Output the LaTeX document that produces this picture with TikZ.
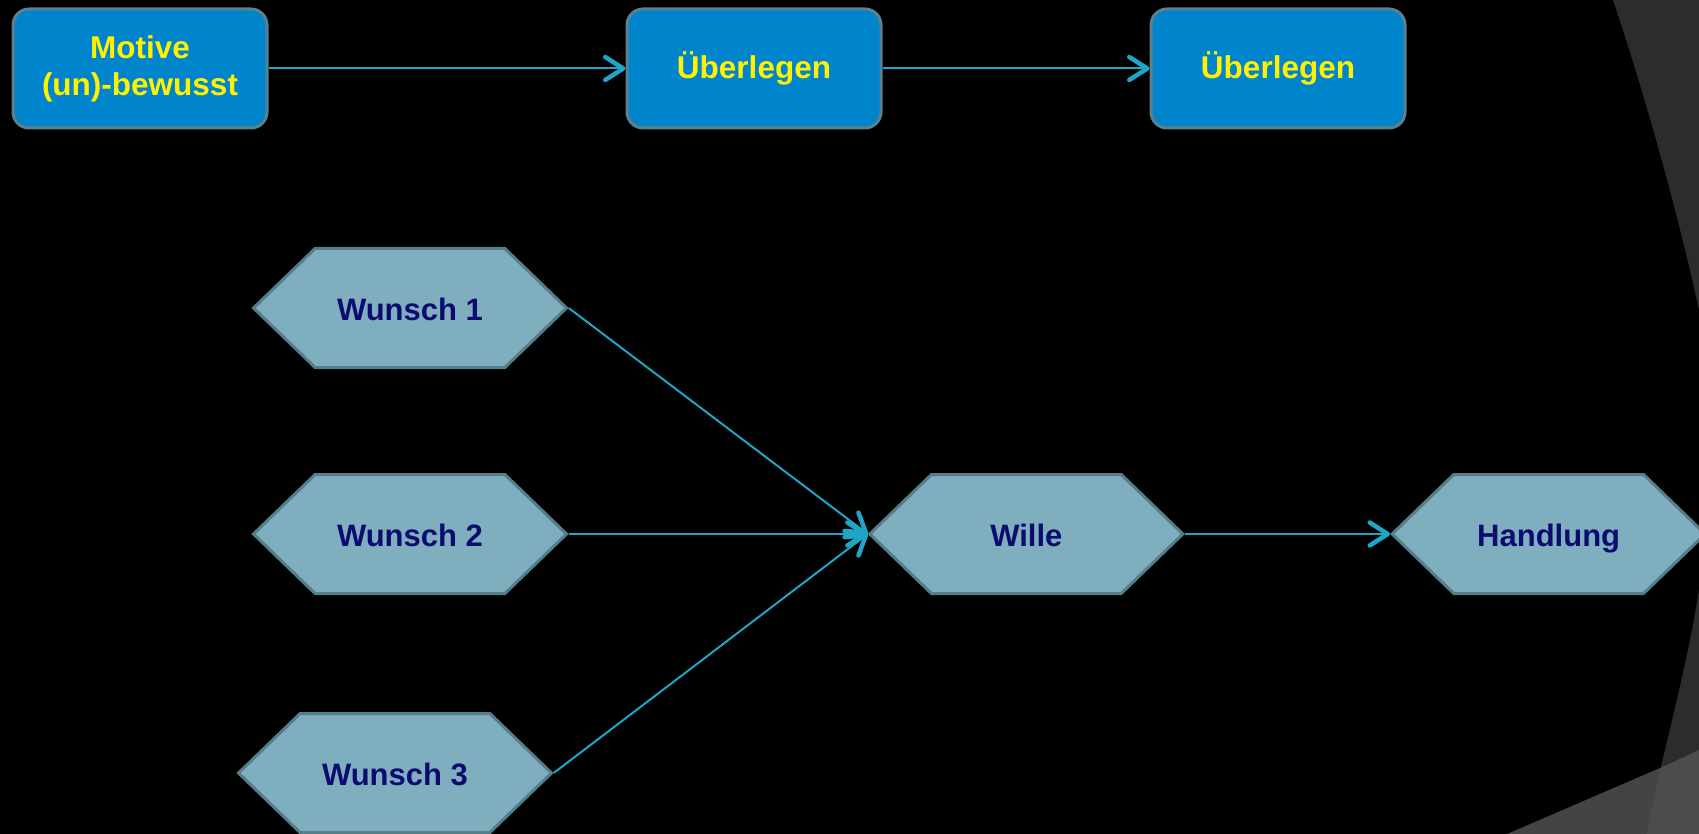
\documentclass[tikz,border=0pt]{standalone}
\usepackage{fontspec}
\setmainfont{Liberation Sans}
\usetikzlibrary{positioning, shapes.symbols, arrows.meta}
\definecolor{boxblue}{RGB}{0,132,204}
\definecolor{boxline}{RGB}{92,128,142}
\definecolor{hexfill}{RGB}{127,174,190}
\definecolor{hexline}{RGB}{84,126,138}
\definecolor{hexnavy}{RGB}{12,12,112}
\definecolor{conncol}{RGB}{30,165,200}
\definecolor{darkband}{RGB}{44,44,44}
\definecolor{lightband}{RGB}{68,68,68}
\definecolor{lighterband}{RGB}{76,76,76}
\tikzset{
	motiv/.style = {rectangle, rounded corners=16pt, draw=boxline, line width=3pt,
	 fill=boxblue, minimum width=254pt, minimum height=119pt, inner sep=0pt,
	 text=yellow, align=center, font=\bfseries\fontsize{31.5}{37}\selectfont}}
\tikzset{
	hexa/.style = {signal, signal to=east and west, signal pointer angle=88,
	 draw=hexline, line width=3pt, fill=hexfill, minimum width=313pt,
	 minimum height=119pt, inner sep=0pt, text=hexnavy, text height=24pt,
	 text depth=0pt, font=\bfseries\fontsize{31}{37}\selectfont}}
\tikzset{
	conn/.style = {draw=conncol, line width=2pt,
	 -{Straight Barb[length=18pt, width=23pt, line width=4.5pt, round]}}}
\begin{document}
\begin{tikzpicture}[x=1pt, y=-1pt]

% BACKGROUND
\useasboundingbox (0,0) rectangle (1699,834);
\fill [black] (0,0) rectangle (1699,834);
\fill [darkband] (1613,0) .. controls (1640,80) and (1675,200) .. (1699,310) -- (1699,0) -- cycle;
\fill [darkband] (1699,590) .. controls (1685,680) and (1655,780) .. (1647,834) -- (1699,834) -- cycle;
\fill [lightband] (1507,834) -- (1667,765) -- (1699,750) -- (1699,834) -- cycle;
\begin{scope}
	\clip (1507,834) -- (1667,765) -- (1699,750) -- (1699,834) -- cycle;
	\fill [lighterband] (1699,590) .. controls (1685,680) and (1655,780) .. (1647,834) -- (1699,834) -- cycle;
\end{scope}

% NODES
\node (motive) [motiv] at (140,68.5) {Motive\\(un)-bewusst};
\node (ueb1) [motiv, right=357pt of motive] {Überlegen};
\node (ueb2) [motiv, right=267pt of ueb1] {Überlegen};

\node (w1) [hexa] at (410,308) {Wunsch 1};
\node (w2) [hexa, below=104pt of w1] {Wunsch 2};
\node (w3) [hexa] at (395,773) {Wunsch 3};
\node (wille) [hexa, right=299pt of w2] {Wille};
\node (handlung) [hexa, right=205pt of wille] {Handlung};

%CONNECTIONS
\draw [conn] (motive) -- (ueb1);
\draw [conn] (ueb1) -- (ueb2);
\draw [conn] (w1.east) -- (wille.west);
\draw [conn] (w2.east) -- (wille.west);
\draw [conn] (w3.east) -- (wille.west);
\draw [conn] (wille.east) -- (handlung.west);

\end{tikzpicture}
\end{document}
